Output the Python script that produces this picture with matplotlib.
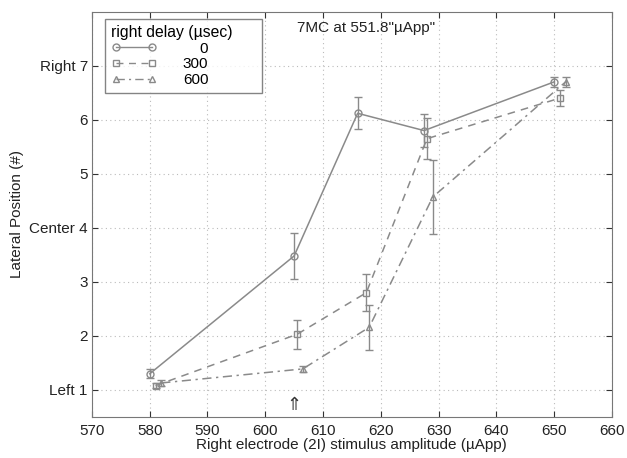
import matplotlib
matplotlib.use("Agg")
import matplotlib.pyplot as plt
from matplotlib.lines import Line2D

plt.rcParams['font.family'] = ['Liberation Sans', 'DejaVu Sans']

delays = ["0", "300", "600"]
x0 = [580, 605, 616, 627.5, 650]
y0 = [1.3, 3.48, 6.12, 5.8, 6.7]
e0 = [0.08, 0.42, 0.3, 0.3, 0.1]
x300 = [581, 605.5, 617.5, 628, 651]
y300 = [1.08, 2.03, 2.8, 5.65, 6.4]
e300 = [0.05, 0.27, 0.34, 0.38, 0.15]
x600 = [582, 606.5, 618, 629, 652]
y600 = [1.13, 1.39, 2.16, 4.57, 6.7]
e600 = [0.05, 0.06, 0.42, 0.68, 0.1]

xticks = [570, 580, 590, 600, 610, 620, 630, 640, 650, 660]
yticks = [1, 2, 3, 4, 5, 6, 7]
yticklabels = ["Left 1", "2", "3", "Center 4", "5", "6", "Right 7"]

gray = "#8a8a8a"
fig = plt.figure(figsize=(6.27, 4.58), dpi=100)
ax = fig.add_axes([0.1467, 0.0895, 0.829, 0.885])

styles = [("o", "-"), ("s", (0, (5, 4))), ("^", (0, (6, 3, 1.5, 3)))]
series = [(x0, y0, e0), (x300, y300, e300), (x600, y600, e600)]
handles = []
for (m, ls), (xs, ys, es) in zip(styles, series):
    ax.errorbar(xs, ys, yerr=es, color=gray, marker=m, ls=ls, lw=1.1,
                ms=5, mfc="none", mec=gray, capsize=3, elinewidth=1.0, capthick=1.0)
    handles.append(Line2D([], [], color=gray, marker=m, ls=ls, lw=1.0, ms=5, mfc="none"))

ax.set_xlim(570, 660)
ax.set_ylim(0.5, 8)
ax.set_xticks(xticks)
ax.set_yticks(yticks)
ax.set_yticklabels(yticklabels)
ax.tick_params(direction="in", top=True, right=True, colors="#333333", labelcolor="#222222",
               labelsize=11, length=4)
ax.tick_params(axis="x", pad=5)
ax.tick_params(axis="y", pad=3)
for s in ax.spines.values():
    s.set_color("#777777")
ax.grid(True, ls=(0, (1, 3)), color="#bbbbbb", lw=0.8)
ax.set_xlabel("Right electrode (2I) stimulus amplitude (µApp)", fontsize=11, color="#222222", labelpad=0)
ax.set_ylabel("Lateral Position (#)", fontsize=11, color="#222222", labelpad=4)

ax.text(605, 0.55, "⇑", ha="center", va="bottom", fontsize=13, color="#333333",
        family=['DejaVu Sans'])
ax.text(0.527, 0.96, '7MC at 551.8"µApp"', transform=ax.transAxes, ha="center",
        va="center", fontsize=11, color="#222222")

labels = ["    0", "300", "600"]
leg = ax.legend(handles, labels, title="right delay (µsec)", loc="upper left",
                bbox_to_anchor=(0.025, 0.81, 0.302, 0.173), mode="expand",
                fontsize=11, title_fontsize=11.3, numpoints=2,
                handlelength=3.0, handletextpad=1.7, labelspacing=0.12,
                borderpad=0.4, fancybox=False, frameon=True, edgecolor="#666666",
                borderaxespad=0.0)
leg.get_frame().set_linewidth(1.0)
leg._legend_box.align = "left"
fig.savefig("out.png", dpi=100)
